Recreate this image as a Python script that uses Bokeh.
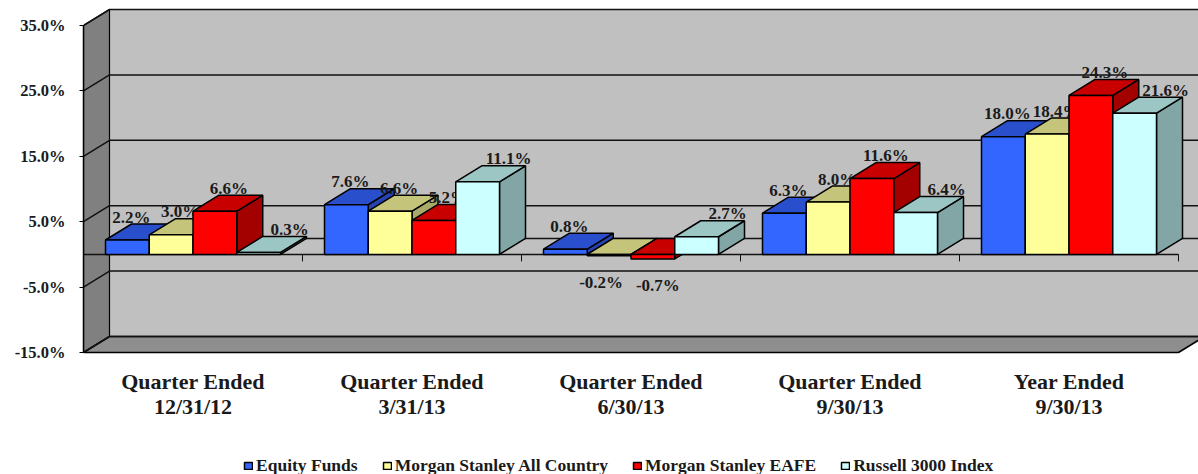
from bokeh.plotting import figure
from bokeh.models import Range1d, FixedTicker, CustomJSTickFormatter, Legend, LegendItem, ColumnDataSource
from bokeh.core.properties import value
from bokeh.embed import file_html
from bokeh.resources import INLINE

# ---------------- data ----------------
cat_line1 = ["Quarter Ended", "Quarter Ended", "Quarter Ended", "Quarter Ended", "Year Ended"]
cat_line2 = ["12/31/12", "3/31/13", "6/30/13", "9/30/13", "9/30/13"]
series_names = ["Equity Funds", "Morgan Stanley All Country", "Morgan Stanley EAFE", "Russell 3000 Index"]
equity_funds = [2.2, 7.6, 0.8, 6.3, 18.0]
ms_all_country = [3.0, 6.6, -0.2, 8.0, 18.4]
ms_eafe = [6.6, 5.2, -0.7, 11.6, 24.3]
russell_3000 = [0.3, 11.1, 2.7, 6.4, 21.6]
y_ticks = [-15, -5, 5, 15, 25, 35]

# ---------------- styles ----------------
front_colors = ["#3366FF", "#FFFF99", "#FF0000", "#CCFFFF"]
top_colors = ["#2A4FCC", "#C4C47A", "#C80000", "#9CC6C4"]
side_colors = ["#2442B0", "#A9A96A", "#A30000", "#82A6A6"]
label_dx_px = [4, 9, 14, 31]        # label shift (px) for positive values
label_dx_neg_px = [0, -8, 5, 0]     # label shift (px) for negative values
FONT = "Liberation Serif"

# ---------------- geometry ----------------
W, H, LEFT = 1198, 474, 83
PX_X = 219.0                   # pixels per category
PX_Y = 6.54                    # pixels per percent
X_END = (W - LEFT) / PX_X
Y_TOP = 35 + 25 / PX_Y
Y_BOT = Y_TOP - H / PX_Y
DX = 26 / PX_X
DY = 16 / PX_Y
GAP = 22 / PX_X
N = len(cat_line1)
NS = len(series_names)
BW = (1 - 2 * GAP) / NS
Y_MIN, Y_MAX = min(y_ticks), max(y_ticks)

p = figure(width=W, height=H, output_backend="svg", toolbar_location=None,
           x_range=Range1d(0, X_END), y_range=Range1d(Y_BOT, Y_TOP),
           min_border_left=LEFT, min_border_right=0, min_border_top=0, min_border_bottom=0,
           x_axis_location=None)
p.outline_line_color = None
p.grid.visible = False
p.background_fill_color = "white"
p.border_fill_color = "white"

# y axis (front plane)
ya = p.yaxis[0]
ya.ticker = FixedTicker(ticks=y_ticks)
ya.formatter = CustomJSTickFormatter(code="return tick.toFixed(1) + '%';")
ya.bounds = (Y_MIN, Y_MAX)
ya.axis_line_color = "black"
ya.axis_line_width = 1.5
ya.major_tick_out = 4
ya.major_tick_in = 0
ya.minor_tick_line_color = None
ya.major_tick_line_color = "black"
ya.major_label_standoff = 14
ya.major_label_text_font = FONT
ya.major_label_text_font_style = "bold"
ya.major_label_text_font_size = "16.5px"
ya.major_label_text_color = "#1a1a1a"

# walls & floor
p.patch([DX, N + DX, N + DX, DX], [Y_MIN + DY, Y_MIN + DY, Y_MAX + DY, Y_MAX + DY],
        fill_color="#C0C0C0", line_color=None)
p.patch([0, DX, DX, 0], [Y_MIN, Y_MIN + DY, Y_MAX + DY, Y_MAX],
        fill_color="#808080", line_color="black", line_width=1.2)
p.patch([0, N, N + DX, DX], [Y_MIN, Y_MIN, Y_MIN + DY, Y_MIN + DY],
        fill_color="#8E8E8E", line_color="black", line_width=1.5)

# gridlines on walls
p.multi_line([[0, DX, N + DX] for t in y_ticks], [[t, t + DY, t + DY] for t in y_ticks],
             line_color="#111111", line_width=1.5)
# zero plane (back edge and front edge)
p.line([DX, N + DX], [DY, DY], line_color="#111111", line_width=1.5)
p.line([0, N], [0, 0], line_color="#111111", line_width=1.5)
# category tick marks
p.segment(x0=list(range(1, N + 1)), y0=[0] * N, x1=list(range(1, N + 1)), y1=[-7 / PX_Y] * N,
          line_color="#111111", line_width=1)

# bars
all_series = [equity_funds, ms_all_country, ms_eafe, russell_3000]
legend_items = []
for s, vals in enumerate(all_series):
    fx, fy, tx, ty, sx, sy = [], [], [], [], [], []
    lx, ly, lt = [], [], []
    for k, v in enumerate(vals):
        x0 = k + GAP + s * BW
        x1 = x0 + BW
        lo, hi = min(v, 0), max(v, 0)
        fx.append([x0, x1, x1, x0]); fy.append([lo, lo, hi, hi])
        tx.append([x0, x1, x1 + DX, x0 + DX]); ty.append([hi, hi, hi + DY, hi + DY])
        sx.append([x1, x1 + DX, x1 + DX, x1]); sy.append([lo, lo + DY, hi + DY, hi])
        cx = (x0 + x1) / 2
        if v >= 0:
            lx.append(cx + label_dx_px[s] / PX_X)
            ly.append(v + DY + 7 / PX_Y)
        else:
            lx.append(cx + label_dx_neg_px[s] / PX_X)
            ly.append(v - 27 / PX_Y)
        lt.append(f"{v:.1f}%")
    p.patches(sx, sy, fill_color=side_colors[s], line_color="black", line_width=1.5)
    p.patches(tx, ty, fill_color=top_colors[s], line_color="black", line_width=1.5)
    r = p.patches(fx, fy, fill_color=front_colors[s], line_color="black", line_width=1.5)
    legend_items.append(LegendItem(label=series_names[s], renderers=[r]))
    src = ColumnDataSource(dict(x=lx, y=ly, t=lt))
    p.text(x="x", y="y", text="t", source=src, text_font=value(FONT), text_font_style="bold",
           text_font_size="17px", text_align="center", text_baseline="alphabetic",
           text_color="#1a1a1a")

# category labels
cx = [k + 0.5 for k in range(N)]
p.text(x=cx, y=[Y_MIN - 29 / PX_Y] * N, text=cat_line1, text_font=value(FONT),
       text_font_style="bold", text_font_size="22px", text_align="center",
       text_baseline="alphabetic", text_color="#1a1a1a")
p.text(x=cx, y=[Y_MIN - 54 / PX_Y] * N, text=cat_line2, text_font=value(FONT),
       text_font_style="bold", text_font_size="22px", text_align="center",
       text_baseline="alphabetic", text_color="#1a1a1a")

legend = Legend(items=legend_items, orientation="horizontal", location=(160, -2),
                padding=0, margin=0, spacing=24, label_standoff=3,
                glyph_width=10, glyph_height=9, label_height=14,
                label_text_font=FONT, label_text_font_style="bold",
                label_text_font_size="17.5px", label_text_color="#1a1a1a",
                border_line_color=None, background_fill_alpha=0)
p.add_layout(legend)

open("out.html", "w").write(file_html(p, INLINE))
